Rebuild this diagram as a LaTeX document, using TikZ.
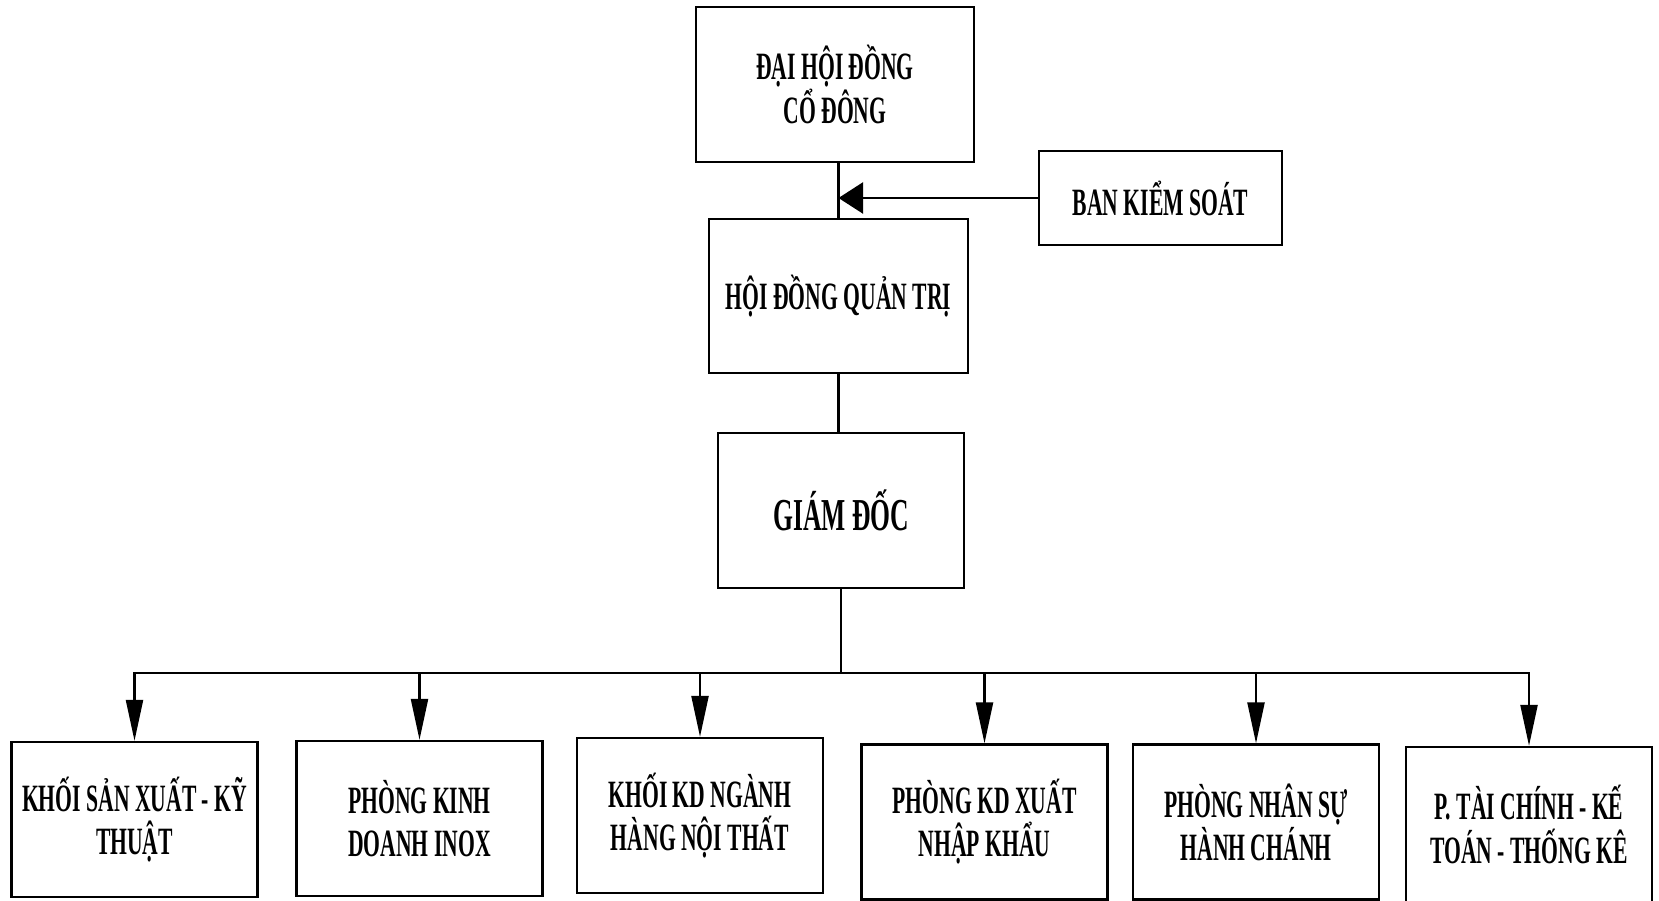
\documentclass[tikz,border=0pt]{standalone}
\usepackage{fontspec}
\setmainfont{Liberation Serif}[FakeStretch=0.56]
\usetikzlibrary{arrows.meta}

\tikzset{
  orgbox/.style={draw,line width=1.3pt,minimum width=4.92cm,minimum height=3.1cm,
                 align=center,inner sep=2pt,font=\fontsize{22}{24.5}\selectfont\bfseries},
  orglink/.style={line width=1.3pt,line cap=rect},
  orgarrow/.style={line width=1.3pt,-{Triangle[length=0.82cm,width=0.34cm]}},
}

\begin{document}
\begin{tikzpicture}
  \useasboundingbox (0,0) rectangle (33.18,18.02);
  %% Top of the chart
  \node[orgbox,minimum width=5.56cm] (dh) at (16.70,16.33)
        {ĐẠI HỘI ĐỒNG\\CỔ ĐÔNG};
  \node[orgbox,minimum width=5.18cm,minimum height=3.08cm] (hd) at (16.77,12.10)
        {HỘI ĐỒNG QUẢN TRỊ};
  \node[orgbox,minimum width=4.86cm,minimum height=1.88cm] (bks) at (23.21,14.06)
        {BAN KIỂM SOÁT};
  \node[orgbox,font=\fontsize{26}{28}\selectfont\bfseries] (gd) at (16.82,7.81)
        {GIÁM ĐỐC};
  %% Departments
  \node[orgbox] (b1) at ( 2.69,1.63) {KHỐI SẢN XUẤT - KỸ\\THUẬT};
  \node[orgbox] (b2) at ( 8.39,1.65) {PHÒNG KINH\\DOANH INOX};
  \node[orgbox] (b3) at (14.00,1.71) {KHỐI KD NGÀNH\\HÀNG NỘI THẤT};
  \node[orgbox] (b4) at (19.69,1.58) {PHÒNG KD XUẤT\\NHẬP KHẨU};
  \node[orgbox] (b5) at (25.12,1.58) {PHÒNG NHÂN SỰ\\HÀNH CHÁNH};
  \node[orgbox] (b6) at (30.58,1.53) {P. TÀI CHÍNH - KẾ\\TOÁN - THỐNG KÊ};
  %% Connectors
  \draw[orglink] (hd.north |- dh.south) -- (hd.north);
  \draw[line width=1.3pt,-{Triangle[length=0.49cm,width=0.62cm]}]
        (bks.west) -- (bks.west -| hd.north);
  \draw[orglink] (hd.south) -- (hd.south |- gd.north);
  \coordinate (bus) at (16.82,4.56);
  \draw[orglink] (gd.south) -- (bus);
  \draw[orglink] (b1.north |- bus) -- (b6.north |- bus);
  \foreach \b in {b1,b2,b3,b4,b5,b6}
    \draw[orgarrow] (\b.north |- bus) -- (\b.north);
\end{tikzpicture}
\end{document}
